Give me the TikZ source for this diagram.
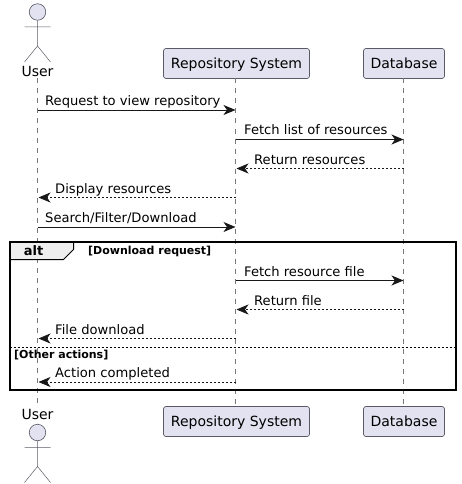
\documentclass[tikz,border=0pt]{standalone}
\usepackage{fontspec}
\setmainfont{DejaVu Sans}
\usetikzlibrary{arrows.meta}
\definecolor{partfill}{HTML}{E2E2F0}
\definecolor{partline}{HTML}{5A5A66}
\definecolor{lifeline}{HTML}{77777F}
\definecolor{inkc}{HTML}{181818}
\definecolor{tabfill}{HTML}{EEEEEE}
\tikzset{
  x=1pt,y=-1pt,
  partbox/.style={draw=partline,fill=partfill,rounded corners=2.5pt,line width=0.7pt,minimum height=30pt,inner sep=0pt,anchor=center,text=black,font=\fontsize{14}{16}\selectfont,text height=12pt,text depth=2.5pt},
  actorlabel/.style={font=\fontsize{14}{16}\selectfont,inner sep=0pt,text=black},
  life/.style={draw=lifeline,line width=0.5pt,dash pattern=on 5pt off 5pt},
  actorline/.style={draw=partline,line width=0.5pt},
  call/.style={draw=inkc,line width=0.9pt,-{Stealth[inset=3.5pt,length=12pt,width=10pt,fill=inkc]}},
  reply/.style={call,line width=0.7pt,dash pattern=on 2pt off 2pt},
  msg/.style={font=\fontsize{13.1}{15}\selectfont,inner sep=0pt,anchor=base west,text=black},
  framebox/.style={draw=black,line width=2pt},
  guard/.style={font=\bfseries\fontsize{11}{13}\selectfont,inner sep=0pt,anchor=base west,text=black},
}
\begin{document}
\begin{tikzpicture}
\useasboundingbox (0,0) rectangle (461,484);
% anchors
\coordinate (utop) at (37.5,78);
\coordinate (ubot) at (37.5,406);
\node[partbox,minimum width=146pt] (rtop) at (236.5,63.5) {Repository System};
\node[partbox,minimum width=146pt] (rbot) at (236.5,421.5) {Repository System};
\node[partbox,minimum width=81pt] (dtop) at (404,63.5) {Database};
\node[partbox,minimum width=81pt] (dbot) at (404,421.5) {Database};
% lifelines
\draw[life] (utop) -- (ubot);
\draw[life] (235.5,78.5) -- (235.5,406.5);
\draw[life] (403.5,78.5) -- (403.5,406.5);
% actors
\node[draw=partline,fill=partfill,circle,minimum size=16.5pt,inner sep=0pt,line width=0.6pt] (uhead1) at (37.5,12) {};
\draw[actorline] (uhead1.south) -- (37.5,46) (24.5,27) -- (50.5,27) (24.5,62) -- (37.5,46) -- (50.5,62);
\node[actorlabel,anchor=base] (ulabel1) at (37.5,76.5) {User};
\node[actorlabel,anchor=base] (ulabel2) at (37.5,419.5) {User};
\node[draw=partline,fill=partfill,circle,minimum size=16.5pt,inner sep=0pt,line width=0.6pt] (uhead2) at (37.5,432.5) {};
\draw[actorline] (uhead2.south) -- (37.5,466.5) (24.5,447.5) -- (50.5,447.5) (24.5,482.5) -- (37.5,466.5) -- (50.5,482.5);
% frame
\coordinate (fa) at (9.5,241.5);
\coordinate (fb) at (455.5,389.5);
\filldraw[fill=tabfill,draw=black,line width=1pt] (9.5,241.5) -- (73.5,241.5) -- (73.5,249.5) -- (63.5,259.5) -- (9.5,259.5) -- cycle;
\draw[framebox] (fa) rectangle (fb);
\draw[black,line width=0.8pt,dash pattern=on 2pt off 2pt] (9.5,347) -- (455.5,347);
\node[font=\bfseries\fontsize{13}{15}\selectfont,inner sep=0pt,anchor=base] (altl) at (33.5,255.5) {alt};
\node[guard] (g1) at (88,254) {[Download request]};
\node[guard] (g2) at (14,358) {[Other actions]};
% messages
\draw[call] (37.5,110) -- (235.5,110);
\node[msg] at (45,105.5) {Request to view repository};
\draw[call] (235.5,139.5) -- (403.5,139.5);
\node[msg] at (244,135) {Fetch list of resources};
\draw[reply] (403.5,168.5) -- (236.5,168.5);
\node[msg] at (254,164.5) {Return resources};
\draw[reply] (235.5,197.5) -- (38.5,197.5);
\node[msg] at (55,193.5) {Display resources};
\draw[call] (37.5,227) -- (235.5,227);
\node[msg] at (45,222.5) {Search/Filter/Download};
\draw[call] (235.5,280.5) -- (403.5,280.5);
\node[msg] at (244,276) {Fetch resource file};
\draw[reply] (403.5,309.5) -- (236.5,309.5);
\node[msg] at (254,305) {Return file};
\draw[reply] (235.5,338.5) -- (38.5,338.5);
\node[msg] at (55,334) {File download};
\draw[reply] (235.5,382) -- (38.5,382);
\node[msg] at (55,377.5) {Action completed};
\end{tikzpicture}
\end{document}
